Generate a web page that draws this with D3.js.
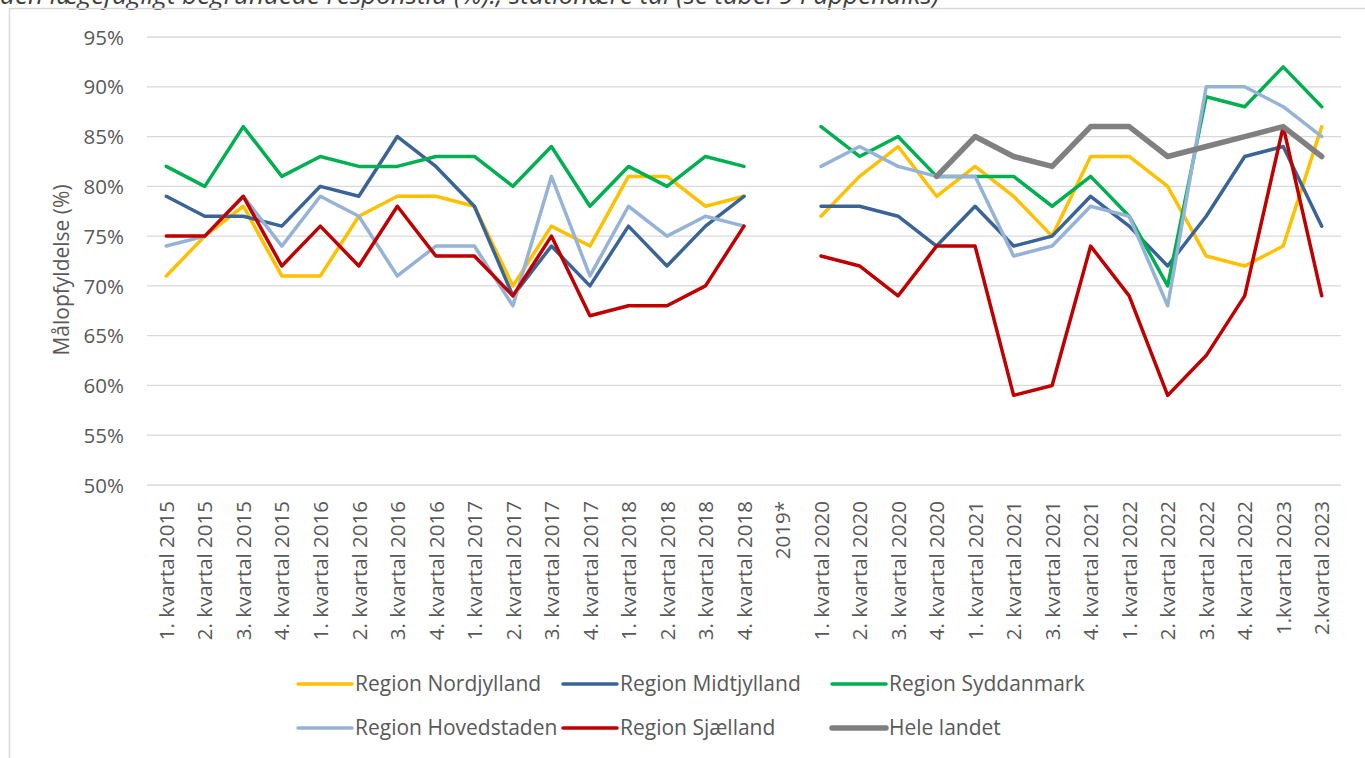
<!DOCTYPE html>
<html>
<head>
<meta charset="utf-8">
<script src="https://cdn.jsdelivr.net/npm/d3@7"></script>
<style>
  body { margin: 0; background: #fff; }
  svg { display: block; }
</style>
</head>
<body>
<div id="chart"></div>
<script>
var width = 1365;
var height = 758;

// kategorier (x-aksen)
var categories = [
  "1. kvartal 2015", "2. kvartal 2015", "3. kvartal 2015", "4. kvartal 2015",
  "1. kvartal 2016", "2. kvartal 2016", "3. kvartal 2016", "4. kvartal 2016",
  "1. kvartal 2017", "2. kvartal 2017", "3. kvartal 2017", "4. kvartal 2017",
  "1. kvartal 2018", "2. kvartal 2018", "3. kvartal 2018", "4. kvartal 2018",
  "2019*",
  "1. kvartal 2020", "2. kvartal 2020", "3. kvartal 2020", "4. kvartal 2020",
  "1. kvartal 2021", "2. kvartal 2021", "3. kvartal 2021", "4. kvartal 2021",
  "1. kvartal 2022", "2. kvartal 2022", "3. kvartal 2022", "4. kvartal 2022",
  "1.kvartal 2023", "2.kvartal 2023"
];

// målopfyldelse i procent, null = ingen data
var nordjylland = [71, 75, 78, 71, 71, 77, 79, 79, 78, 70, 76, 74, 81, 81, 78, 79, null,
  77, 81, 84, 79, 82, 79, 75, 83, 83, 80, 73, 72, 74, 86];
var midtjylland = [79, 77, 77, 76, 80, 79, 85, 82, 78, 69, 74, 70, 76, 72, 76, 79, null,
  78, 78, 77, 74, 78, 74, 75, 79, 76, 72, 77, 83, 84, 76];
var syddanmark = [82, 80, 86, 81, 83, 82, 82, 83, 83, 80, 84, 78, 82, 80, 83, 82, null,
  86, 83, 85, 81, 81, 81, 78, 81, 77, 70, 89, 88, 92, 88];
var hovedstaden = [74, 75, 79, 74, 79, 77, 71, 74, 74, 68, 81, 71, 78, 75, 77, 76, null,
  82, 84, 82, 81, 81, 73, 74, 78, 77, 68, 90, 90, 88, 85];
var sjaelland = [75, 75, 79, 72, 76, 72, 78, 73, 73, 69, 75, 67, 68, 68, 70, 76, null,
  73, 72, 69, 74, 74, 59, 60, 74, 69, 59, 63, 69, 86, 69];
var heleLandet = [null, null, null, null, null, null, null, null, null, null, null, null, null, null, null, null, null,
  null, null, null, 81, 85, 83, 82, 86, 86, 83, 84, 85, 86, 83];

var seriesNames = ["Region Nordjylland", "Region Midtjylland", "Region Syddanmark",
  "Region Hovedstaden", "Region Sjælland", "Hele landet"];
var seriesValues = [nordjylland, midtjylland, syddanmark, hovedstaden, sjaelland, heleLandet];
var seriesColors = ["#FFC000", "#3A6496", "#00B050", "#95B3D7", "#C00000", "#808080"];
var seriesWidths = [3.5, 3.5, 3.5, 3.5, 3.5, 5.5];

var yTicks = [50, 55, 60, 65, 70, 75, 80, 85, 90, 95];

var plot = { left: 147, right: 1341, top: 37, bottom: 485 };
var font = "'Open Sans', sans-serif";
var textColor = "#595959";

var svg = d3.select("#chart")
  .append("svg")
  .attr("width", width)
  .attr("height", height);

// afskåret titel fra rapporten (øverste kant er beskåret som i originalen)
svg.append("text")
  .attr("x", 0)
  .attr("y", 4)
  .attr("font-family", font)
  .attr("font-style", "italic")
  .attr("font-size", "26px")
  .attr("fill", "#404040")
  .text("den lægefagligt begrundede responstid (%)., stationære tal (se tabel 9 i appendiks)");

// ramme
svg.append("rect")
  .attr("x", 9.5)
  .attr("y", 8.5)
  .attr("width", width)
  .attr("height", height)
  .attr("fill", "none")
  .attr("stroke", "#d9d9d9")
  .attr("stroke-width", 1.5);

var x = d3.scalePoint()
  .domain(categories)
  .range([plot.left, plot.right])
  .padding(0.5);

var y = d3.scaleLinear()
  .domain([50, 95])
  .range([plot.bottom, plot.top]);

// gitterlinjer
svg.append("g")
  .selectAll("line")
  .data(yTicks)
  .enter().append("line")
  .attr("x1", plot.left)
  .attr("x2", plot.right)
  .attr("y1", function(d) { return y(d); })
  .attr("y2", function(d) { return y(d); })
  .attr("stroke", "#d9d9d9")
  .attr("stroke-width", 1.3);

// y-akse
var yAxis = svg.append("g")
  .attr("transform", "translate(" + (plot.left - 23) + ",0)")
  .call(d3.axisLeft(y).tickValues(yTicks).tickSize(0).tickPadding(0)
    .tickFormat(function(d) { return d + "%"; }));
yAxis.select(".domain").remove();
yAxis.selectAll("text")
  .attr("font-family", font)
  .attr("font-size", "20.5px")
  .attr("fill", textColor)
  .attr("dy", "0.35em");

svg.append("text")
  .attr("transform", "translate(69," + ((plot.top + plot.bottom) / 2 + 9) + ") rotate(-90)")
  .attr("text-anchor", "middle")
  .attr("font-family", font)
  .attr("font-size", "21px")
  .attr("fill", textColor)
  .text("Målopfyldelse (%)");

// x-akse
var xAxis = svg.append("g")
  .attr("transform", "translate(0," + plot.bottom + ")")
  .call(d3.axisBottom(x).tickSize(0).tickPadding(0));
xAxis.select(".domain").remove();
xAxis.selectAll("text")
  .attr("font-family", font)
  .attr("font-size", "20.5px")
  .attr("fill", textColor)
  .attr("text-anchor", "end")
  .attr("transform", "translate(0,16) rotate(-90)")
  .attr("x", 0)
  .attr("y", 0)
  .attr("dy", "0.35em");

// linjer
var line = d3.line()
  .defined(function(d) { return d.v != null; })
  .x(function(d) { return x(d.c); })
  .y(function(d) { return y(d.v); });

seriesValues.forEach(function(vals, s) {
  var pts = vals.map(function(v, i) { return { c: categories[i], v: v }; });
  svg.append("path")
    .datum(pts)
    .attr("d", line)
    .attr("fill", "none")
    .attr("stroke", seriesColors[s])
    .attr("stroke-width", seriesWidths[s])
    .attr("stroke-linejoin", "round")
    .attr("stroke-linecap", "round");
});

// legende
var legendX = [298, 563, 832];
var legendY = [684, 728];
var legend = svg.append("g");
seriesNames.forEach(function(name, s) {
  var lx = legendX[s % 3], ly = legendY[Math.floor(s / 3)];
  legend.append("line")
    .attr("x1", lx).attr("x2", lx + 54)
    .attr("y1", ly).attr("y2", ly)
    .attr("stroke", seriesColors[s])
    .attr("stroke-width", seriesWidths[s])
    .attr("stroke-linecap", "round");
  legend.append("text")
    .attr("x", lx + 57)
    .attr("y", ly)
    .attr("dy", "0.35em")
    .attr("font-family", font)
    .attr("font-size", "21px")
    .attr("fill", textColor)
    .text(name);
});
</script>
</body>
</html>
